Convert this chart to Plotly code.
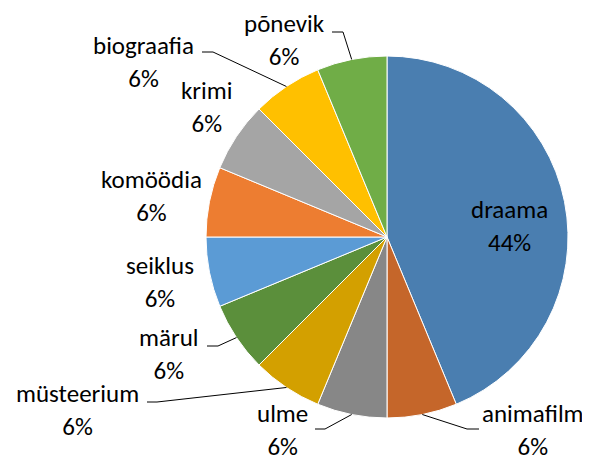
import math
import plotly.graph_objects as go

# film genres, counted
genres = ["draama", "animafilm", "ulme", "müsteerium", "märul",
          "seiklus", "komöödia", "krimi", "biograafia", "põnevik"]
counts = [7, 1, 1, 1, 1, 1, 1, 1, 1, 1]
colors = ["#4A7EB0", "#C5662A", "#878787", "#D3A000", "#5B8F3B",
          "#5B9BD5", "#ED7D31", "#A5A5A5", "#FFC000", "#70AD47"]

OFF = 8  # page body margin
W, H = 590 - OFF, 463 - OFF
cx, cy, r = 387 - OFF, 237 - OFF, 181  # pie centre / radius in figure px

# label block centres and leader line points near label (screen px)
label_pos = {
    "draama": (509, 226), "animafilm": (533, 436), "ulme": (282, 435),
    "müsteerium": (77, 410), "märul": (169, 354), "seiklus": (160, 282),
    "komöödia": (151, 196), "krimi": (207, 107), "biograafia": (143, 62),
    "põnevik": (284, 40),
}
leaders = {
    "põnevik": [(332, 32), (343, 32)],
    "biograafia": [(202, 52), (213, 52)],
    "märul": [(207, 346), (218, 346)],
    "müsteerium": [(147, 402), (157, 402)],
    "ulme": [(315, 429), (325, 429)],
    "animafilm": [(479, 429), (467, 429)],
}


def px(x, y):
    return (x - OFF) / W, 1 - (y - OFF) / H


FS = 25
font = dict(family="Calibri, Carlito, Lato, sans-serif", size=FS, color="#000000")

fig = go.Figure(go.Pie(
    labels=genres, values=counts, sort=False, direction="clockwise", rotation=0,
    marker=dict(colors=colors, line=dict(color="white", width=1)),
    textinfo="none", hoverinfo="label+percent", showlegend=False,
    domain=dict(x=[(cx - r) / W, (cx + r) / W], y=[1 - (cy + r) / H, 1 - (cy - r) / H]),
))

total = sum(counts)
anns, shapes = [], []
acc = 0
for g, v in zip(genres, counts):
    mid = (acc + v / 2) / total * 2 * math.pi
    acc += v
    ex, ey = cx + OFF + r * math.sin(mid), cy + OFF - r * math.cos(mid)
    lx, ly = px(*label_pos[g])
    yanchor = "middle"
    if label_pos[g][1] + 1.3 * FS > 463:  # keep the text box inside the page
        ly, yanchor = 0, "bottom"
    anns.append(dict(x=lx, y=ly, xref="paper", yref="paper",
                     text=f"{g}<br>{round(v / total * 100)}%", showarrow=False,
                     xanchor="center", yanchor=yanchor, font=font, borderpad=0))
    if g in leaders:
        pts = [px(*p) for p in leaders[g] + [(ex, ey)]]
        path = "M " + " L ".join(f"{x} {y}" for x, y in pts)
        shapes.append(dict(type="path", path=path, xref="paper", yref="paper",
                           line=dict(color="#000000", width=1)))

fig.update_layout(
    width=W, height=H, margin=dict(l=0, r=0, t=0, b=0),
    paper_bgcolor="white", plot_bgcolor="white",
    annotations=anns, shapes=shapes,
)
fig.write_html("out.html")
